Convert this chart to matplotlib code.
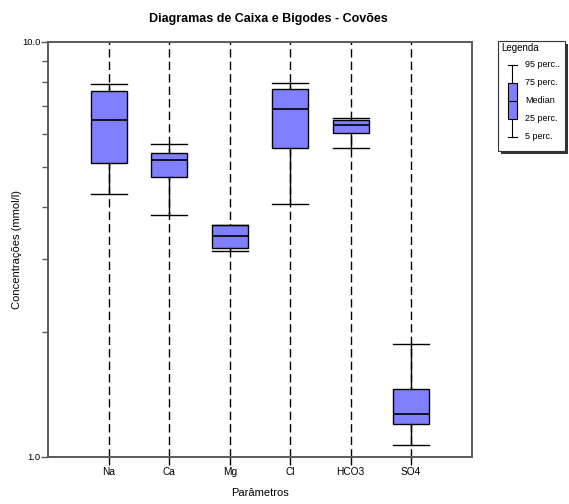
import matplotlib
matplotlib.use("agg")
import matplotlib.pyplot as plt
from matplotlib.patches import Rectangle
from matplotlib.ticker import LogLocator, NullFormatter, FixedLocator, FixedFormatter

plt.rcParams["font.family"] = ["Liberation Sans", "DejaVu Sans"]

# percentiles (mmol/l)
params = ["Na", "Ca", "Mg", "Cl", "HCO3", "SO4"]
p5 = [4.29, 3.82, 3.13, 4.06, 5.55, 1.07]
p25 = [5.11, 4.72, 3.19, 5.54, 6.03, 1.20]
p50 = [6.47, 5.20, 3.41, 6.89, 6.31, 1.27]
p75 = [7.62, 5.40, 3.62, 7.71, 6.47, 1.46]
p95 = [7.93, 5.67, 3.63, 7.96, 6.54, 1.87]

box_color = "#8080ff"
spine_color = "#5a5a5a"

fig = plt.figure(figsize=(5.69, 5.04), dpi=100)
ax = fig.add_axes([0.0849, 0.0938, 0.744, 0.8229])

positions = list(range(1, len(params) + 1))

# dashed guide line behind every box
for x in positions:
    ax.axvline(x, color="black", lw=1.0, ls=(0, (6, 3)), zorder=1)

stats = []
for i, name in enumerate(params):
    stats.append({"label": name, "whislo": p5[i], "q1": p25[i], "med": p50[i],
                  "q3": p75[i], "whishi": p95[i], "fliers": []})

ax.bxp(stats, positions=positions, widths=0.6, patch_artist=True, showfliers=False,
       boxprops=dict(facecolor=box_color, edgecolor="black", linewidth=1.0),
       medianprops=dict(color="black", linewidth=1.2),
       whiskerprops=dict(color="black", linewidth=1.0),
       capprops=dict(color="black", linewidth=1.0),
       capwidths=0.6, zorder=3)

ax.set_yscale("log")
ax.set_ylim(1.0, 10.0)
ax.set_xlim(0, 7)
ax.yaxis.set_major_locator(FixedLocator([1.0, 10.0]))
ax.yaxis.set_major_formatter(FixedFormatter(["1.0", "10.0"]))
ax.yaxis.set_minor_locator(LogLocator(base=10, subs=range(2, 10)))
ax.yaxis.set_minor_formatter(NullFormatter())
ax.set_xticks(positions)
ax.set_xticklabels(params)

ax.tick_params(axis="y", which="major", length=5, width=1, labelsize=6.8, pad=0.5, color=spine_color)
ax.tick_params(axis="y", which="minor", length=4, width=1, color=spine_color)
ax.tick_params(axis="x", length=6, width=1, labelsize=7.3, pad=1.5, color="black")

for s in ax.spines.values():
    s.set_color(spine_color)
    s.set_linewidth(1.4)

ax.set_xlabel("Parâmetros", fontsize=8, labelpad=7.5)
ax.set_ylabel("Concentrações (mmol/l)", fontsize=8, labelpad=0.5)
fig.text(268 / 569, 1 - 19 / 504, "Diagramas de Caixa e Bigodes - Covões",
         fontsize=9, fontweight="bold", ha="center", va="center")

# legend panel drawn in pixel coordinates
lg = fig.add_axes([0, 0, 1, 1], facecolor="none")
lg.set_xlim(0, 569)
lg.set_ylim(504, 0)
lg.axis("off")
lg.add_patch(Rectangle((501, 44), 67, 110, facecolor="#333333", edgecolor="none"))
lg.add_patch(Rectangle((498, 41), 67, 110, facecolor="white", edgecolor="#333333", lw=0.8))
lg.text(501, 48, "Legenda", fontsize=7, va="center", ha="left")

cx = 512.5
levels = [64.5, 82.5, 100.5, 118.5, 136.5]
labels = ["95 perc..", "75 perc.", "Median", "25 perc.", "5 perc."]
lg.add_patch(Rectangle((cx - 4.3, levels[1]), 8.6, levels[3] - levels[1],
                       facecolor=box_color, edgecolor="black", lw=0.8))
lg.plot([cx - 4.3, cx + 4.3], [levels[2]] * 2, color="black", lw=0.8)
lg.plot([cx, cx], [levels[0], levels[1]], color="black", lw=0.8)
lg.plot([cx, cx], [levels[3], levels[4]], color="black", lw=0.8)
lg.plot([cx - 4.3, cx + 4.3], [levels[0]] * 2, color="black", lw=0.8)
lg.plot([cx - 4.3, cx + 4.3], [levels[4]] * 2, color="black", lw=0.8)
for y, t in zip(levels, labels):
    lg.text(525, y, t, fontsize=6.5, va="center", ha="left")

fig.savefig("out.png", dpi=100)
